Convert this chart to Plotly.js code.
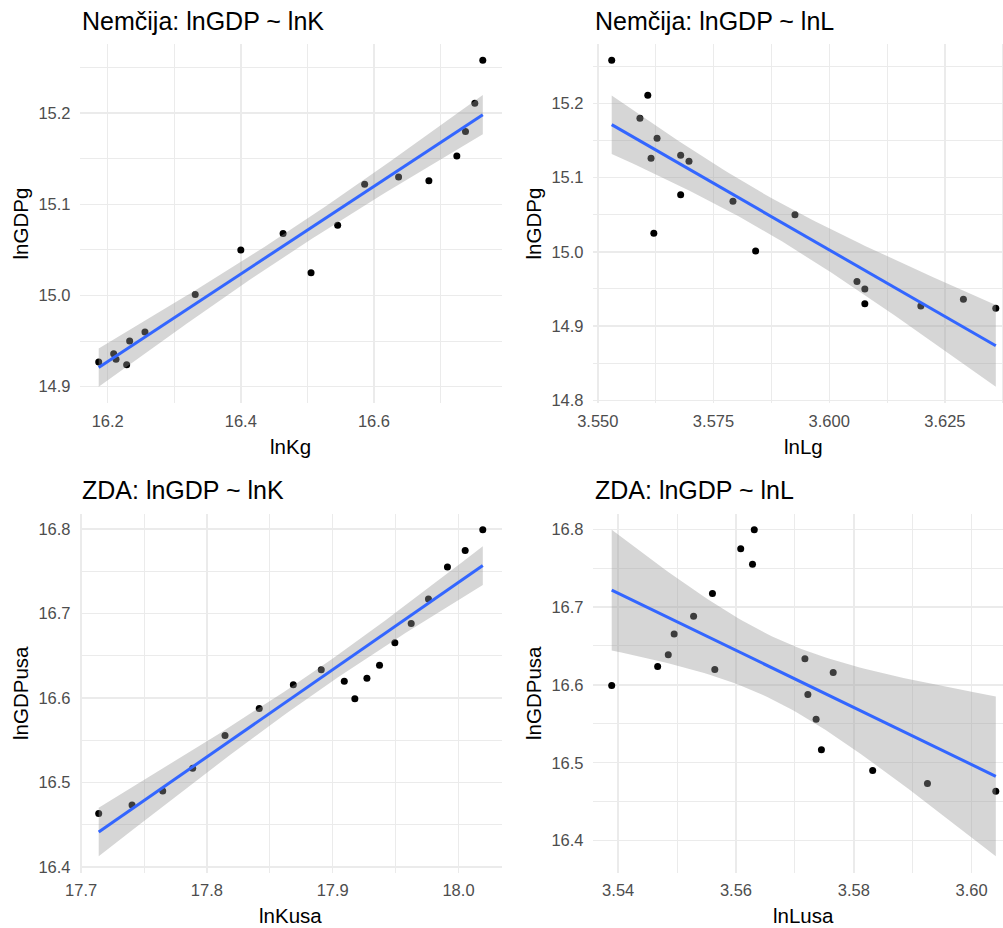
<!DOCTYPE html>
<html>
<head>
<meta charset="utf-8">
<script src="https://cdn.plot.ly/plotly-3.0.1.min.js"></script>
<style>
  html, body { margin: 0; padding: 0; background: #ffffff; overflow: hidden; }
  #chart { width: 1030px; height: 928px; }
</style>
</head>
<body>
<div id="chart"></div>
<script>
// ---- Data ----
const lnKg = [16.1865, 16.209, 16.2125, 16.2285, 16.233, 16.256, 16.3315, 16.400, 16.4635, 16.5055, 16.5455, 16.586, 16.637, 16.6825, 16.7245, 16.7375, 16.7515, 16.7635];
const lnGDPg = [14.927, 14.936, 14.930, 14.924, 14.950, 14.960, 15.001, 15.050, 15.068, 15.025, 15.077, 15.122, 15.130, 15.126, 15.153, 15.180, 15.211, 15.258];
const lnLg = [3.6198, 3.6290, 3.6077, 3.6360, 3.6077, 3.6060, 3.5841, 3.5926, 3.5792, 3.5621, 3.5679, 3.5697, 3.5679, 3.5615, 3.5628, 3.5591, 3.5608, 3.5530];

const lnKusa = [17.714, 17.7405, 17.7649, 17.7887, 17.8144, 17.8416, 17.8687, 17.8909, 17.9092, 17.9176, 17.9272, 17.9372, 17.9494, 17.9624, 17.9761, 17.9912, 18.0053, 18.0193];
const lnGDPusa = [16.4634, 16.4734, 16.4900, 16.5168, 16.5558, 16.5876, 16.6158, 16.6336, 16.6198, 16.5991, 16.6235, 16.6387, 16.6654, 16.6883, 16.7174, 16.7551, 16.7748, 16.7992];
const lnLusa = [3.6041, 3.5925, 3.5832, 3.5745, 3.5736, 3.5722, 3.5765, 3.5717, 3.5564, 3.5389, 3.5467, 3.5485, 3.5495, 3.5528, 3.5560, 3.5628, 3.5608, 3.5631];

const panelTitles = ["Nemčija: lnGDP ~ lnK", "Nemčija: lnGDP ~ lnL", "ZDA: lnGDP ~ lnK", "ZDA: lnGDP ~ lnL"];
const xTitles = ["lnKg", "lnLg", "lnKusa", "lnLusa"];
const yTitles = ["lnGDPg", "lnGDPg", "lnGDPusa", "lnGDPusa"];

// ---- Linear fit with 95% confidence band (as geom_smooth(method = "lm")) ----
const T975_DF16 = 2.119905; // qt(0.975, 16) for n = 18
function lmBand(x, y) {
  const n = x.length;
  const mx = x.reduce((a, b) => a + b, 0) / n;
  const my = y.reduce((a, b) => a + b, 0) / n;
  let sxx = 0, sxy = 0;
  for (let i = 0; i < n; i++) { sxx += (x[i] - mx) ** 2; sxy += (x[i] - mx) * (y[i] - my); }
  const b = sxy / sxx, a = my - b * mx;
  let sse = 0;
  for (let i = 0; i < n; i++) sse += (y[i] - a - b * x[i]) ** 2;
  const s = Math.sqrt(sse / (n - 2));
  const xmin = Math.min(...x), xmax = Math.max(...x);
  const gx = [], fit = [], lo = [], hi = [];
  const m = 80;
  for (let k = 0; k < m; k++) {
    const x0 = xmin + (xmax - xmin) * k / (m - 1);
    const f = a + b * x0;
    const se = s * Math.sqrt(1 / n + (x0 - mx) ** 2 / sxx);
    gx.push(x0); fit.push(f); lo.push(f - T975_DF16 * se); hi.push(f + T975_DF16 * se);
  }
  return { gx, fit, lo, hi };
}

function expandRange(vals) {
  const mn = Math.min(...vals), mx = Math.max(...vals);
  const pad = (mx - mn) * 0.05;
  return [mn - pad, mx + pad];
}

const W = 1030, H = 928;
// panel plot areas in pixels: [left, right, top, bottom]
const boxes = [
  [79.5, 502, 44, 403],
  [592.5, 1015, 44, 403],
  [79.5, 502, 513.5, 872.5],
  [592.5, 1015, 513.5, 872.5]
];
const panels = [
  { x: lnKg, y: lnGDPg, xdt: 0.2, xt0: 16.2, xfmt: ".1f", ydt: 0.1, yt0: 15.0, yfmt: ".1f" },
  { x: lnLg, y: lnGDPg, xdt: 0.025, xt0: 3.55, xfmt: ".3f", ydt: 0.1, yt0: 15.0, yfmt: ".1f" },
  { x: lnKusa, y: lnGDPusa, xdt: 0.1, xt0: 17.7, xfmt: ".1f", ydt: 0.1, yt0: 16.5, yfmt: ".1f" },
  { x: lnLusa, y: lnGDPusa, xdt: 0.02, xt0: 3.54, xfmt: ".2f", ydt: 0.1, yt0: 16.5, yfmt: ".1f" }
];

const FONT = "Liberation Sans, Arial, Helvetica, sans-serif";
const traces = [];
const layout = {
  width: W, height: H,
  margin: { l: 0, r: 0, t: 0, b: 0 },
  paper_bgcolor: "#ffffff", plot_bgcolor: "#ffffff",
  showlegend: false,
  font: { family: FONT },
  annotations: []
};

panels.forEach((p, i) => {
  const idx = i === 0 ? "" : String(i + 1);
  const xa = "x" + idx, ya = "y" + idx;
  const band = lmBand(p.x, p.y);

  // points (drawn first, so the band sits over them as in ggplot)
  traces.push({
    type: "scatter", mode: "markers", x: p.x, y: p.y, xaxis: xa, yaxis: ya,
    marker: { color: "#000000", size: 7 }, hoverinfo: "x+y"
  });
  // confidence band
  traces.push({
    type: "scatter", mode: "lines",
    x: band.gx.concat(band.gx.slice().reverse()),
    y: band.hi.concat(band.lo.slice().reverse()),
    xaxis: xa, yaxis: ya, fill: "toself",
    fillcolor: "rgba(153,153,153,0.4)", line: { width: 0, color: "rgba(0,0,0,0)" },
    hoverinfo: "skip"
  });
  // fitted line
  traces.push({
    type: "scatter", mode: "lines", x: band.gx, y: band.fit, xaxis: xa, yaxis: ya,
    line: { color: "#3366FF", width: 3 }, hoverinfo: "skip"
  });

  const b = boxes[i];
  const xr = expandRange(p.x);
  const yr = expandRange(p.y.concat(band.lo, band.hi));
  const common = {
    showline: false, zeroline: false, ticks: "",
    tickfont: { family: FONT, size: 16.5, color: "#4D4D4D" },
    showgrid: true, gridcolor: "#EBEBEB", gridwidth: 1.4,
    tickmode: "linear", fixedrange: true
  };
  layout["xaxis" + idx] = Object.assign({}, common, {
    domain: [b[0] / W, b[1] / W], anchor: ya, range: xr,
    tick0: p.xt0, dtick: p.xdt, tickformat: p.xfmt, ticklabelstandoff: 6,
    minor: { showgrid: true, gridcolor: "#EBEBEB", gridwidth: 1.0, dtick: p.xdt / 2, tick0: p.xt0, ticks: "" }
  });
  layout["yaxis" + idx] = Object.assign({}, common, {
    domain: [1 - b[3] / H, 1 - b[2] / H], anchor: xa, range: yr,
    tick0: p.yt0, dtick: p.ydt, tickformat: p.yfmt, ticklabelstandoff: 8,
    minor: { showgrid: true, gridcolor: "#EBEBEB", gridwidth: 1.0, dtick: p.ydt / 2, tick0: p.yt0, ticks: "" }
  });

  // panel title
  layout.annotations.push({
    text: panelTitles[i], xref: "paper", yref: "paper",
    x: b[0] / W, y: 1 - (i < 2 ? 21 : 490) / H, xanchor: "left", yanchor: "middle",
    showarrow: false, font: { family: FONT, size: 25, color: "#000000" }
  });
  // x axis title
  layout.annotations.push({
    text: xTitles[i], xref: "paper", yref: "paper",
    x: (b[0] + b[1]) / 2 / W, y: 1 - (b[3] + 43) / H, xanchor: "center", yanchor: "middle",
    showarrow: false, font: { family: FONT, size: 20.5, color: "#000000" }
  });
  // y axis title
  layout.annotations.push({
    text: yTitles[i], xref: "paper", yref: "paper", textangle: -90,
    x: (b[0] - 59.5) / W, y: 1 - (b[2] + b[3]) / 2 / H, xanchor: "center", yanchor: "middle",
    showarrow: false, font: { family: FONT, size: 20.5, color: "#000000" }
  });
});

Plotly.newPlot("chart", traces, layout, { displayModeBar: false, staticPlot: true });
</script>
</body>
</html>
